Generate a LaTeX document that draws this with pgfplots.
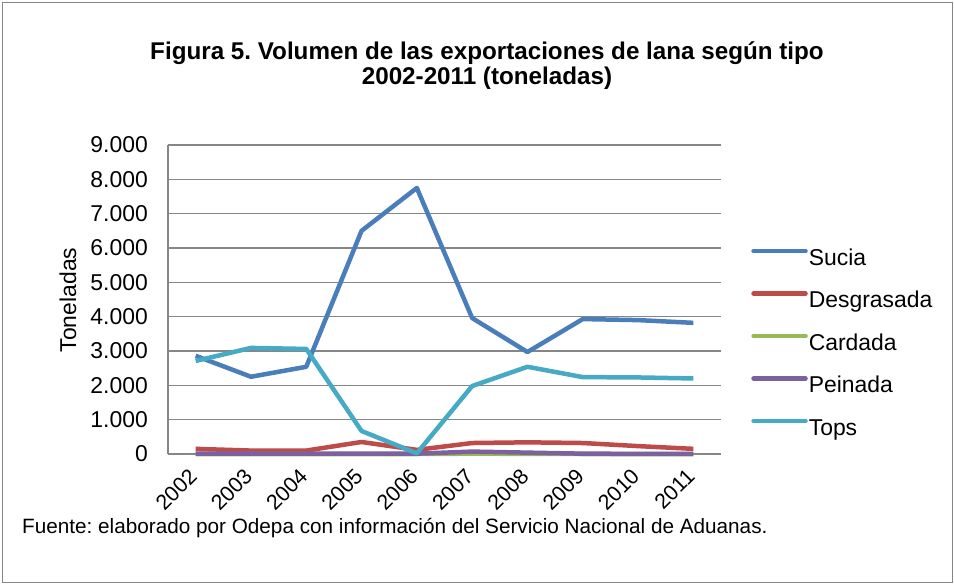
\documentclass[border=0pt]{standalone}
\usepackage{pgfplots}
\pgfplotsset{compat=1.18}
\usepackage{fontspec}
\setmainfont{Liberation Sans}
\frenchspacing
\definecolor{csucia}{HTML}{4A7EBB}
\definecolor{cdesg}{HTML}{BE4B48}
\definecolor{ccard}{HTML}{98B954}
\definecolor{cpein}{HTML}{7D60A0}
\definecolor{ctops}{HTML}{46AAC5}
\definecolor{cgrid}{HTML}{868686}
\begin{document}
\begin{tikzpicture}
\useasboundingbox (0,0) rectangle (954bp,-584bp);
\draw[cgrid, line width=1bp] (2bp,-2bp) rectangle (952bp,-582bp);
\begin{axis}[
  at={(168bp,-454bp)}, anchor=south west,
  width=553bp, height=309bp, scale only axis,
  xmin=-0.5, xmax=9.5, ymin=0, ymax=9000,
  xtick={0,...,9},
  xticklabels={2002,2003,2004,2005,2006,2007,2008,2009,2010,2011},
  ytick={0,1000,...,9000},
  yticklabels={0,1.000,2.000,3.000,4.000,5.000,6.000,7.000,8.000,9.000},
  axis x line*=bottom, axis y line*=left,
  axis line style={cgrid, line width=1.5bp},
  ymajorgrids, grid style={cgrid, line width=1.5bp},
  major tick length=0pt,
  yticklabel style={inner sep=0pt, xshift=-20bp, font=\fontsize{23}{27}\selectfont},
  xticklabel style={xshift=-8bp, yshift=-13bp, rotate=45, anchor=north east, inner sep=0pt, font=\fontsize{21.5}{26}\selectfont},
  clip=false,
  legend cell align=left,
  legend style={draw=none, fill=none, at={(1.0490,0.356)}, anchor=west,
    font=\fontsize{23}{27}\selectfont,
    nodes={inner sep=0pt, text height=17bp, text depth=5bp},
    row sep=20.5bp,
    /tikz/every odd column/.append style={column sep=1bp}},
  legend image code/.code={\draw[#1, line cap=round] (2bp,8bp) -- (54bp,8bp);},
  every axis plot/.append style={line width=4.5bp, line join=round},
]
\addplot[csucia] coordinates {(0,2860) (1,2250) (2,2540) (3,6500) (4,7750) (5,3960) (6,2970) (7,3930) (8,3900) (9,3820)};
\addplot[cdesg] coordinates {(0,150) (1,100) (2,100) (3,350) (4,120) (5,320) (6,340) (7,320) (8,230) (9,150)};
\addplot[ccard] coordinates {(0,0) (1,0) (2,0) (3,0) (4,0) (5,10) (6,5) (7,0) (8,0) (9,0)};
\addplot[cpein] coordinates {(0,10) (1,10) (2,10) (3,10) (4,10) (5,70) (6,40) (7,10) (8,5) (9,5)};
\addplot[ctops] coordinates {(0,2710) (1,3090) (2,3060) (3,670) (4,20) (5,1980) (6,2540) (7,2240) (8,2230) (9,2200)};
\legend{Sucia,Desgrasada,Cardada,Peinada,Tops}
\end{axis}
\node[rotate=90, font=\fontsize{23}{27}\selectfont] at (68bp,-300bp) {Toneladas};
\node[font=\bfseries\fontsize{24.3}{25}\selectfont, align=center] at (487bp,-66bp) {Figura 5. Volumen de las exportaciones de lana según tipo\\2002-2011 (toneladas)};
\node[anchor=west, inner sep=0pt, font=\fontsize{20.8}{24}\selectfont] at (22bp,-528bp) {Fuente: elaborado por Odepa con información del Servicio Nacional de Aduanas.};
\end{tikzpicture}
\end{document}
